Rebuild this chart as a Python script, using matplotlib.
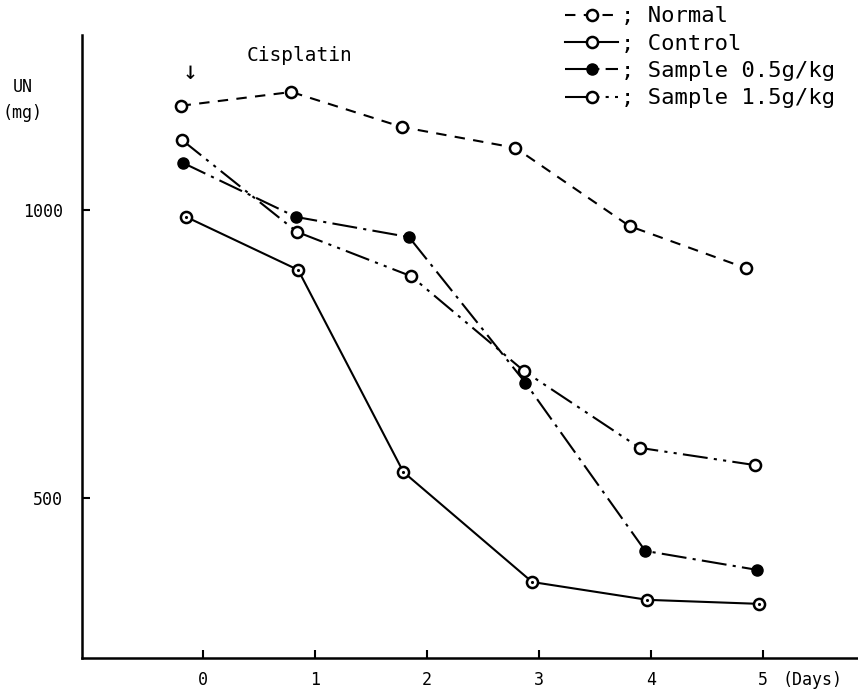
import matplotlib
matplotlib.use("Agg")
import matplotlib.pyplot as plt

# values (x in days, y in mg)
normal_x = [-0.20, 0.79, 1.78, 2.79, 3.81, 4.85]
normal_y = [1181, 1205, 1144, 1108, 972, 899]

control_x = [-0.15, 0.85, 1.79, 2.94, 3.97, 4.97]
control_y = [988, 896, 545, 354, 323, 316]

s05_x = [-0.18, 0.83, 1.84, 2.88, 3.95, 4.95]
s05_y = [1082, 988, 953, 700, 408, 375]

s15_x = [-0.19, 0.84, 1.86, 2.87, 3.90, 4.93]
s15_y = [1122, 962, 885, 720, 587, 557]

day_ticks = [0, 1, 2, 3, 4, 5]
day_labels = ["0", "1", "2", "3", "4", "5"]
un_ticks = [500, 1000]

plt.rcParams["font.family"] = ["DejaVu Sans Mono"]

fig = plt.figure(figsize=(8.58, 6.98), dpi=100)
ax = fig.add_axes([0.0956, 0.0573, 0.9044, 0.8926])

lw = 1.5
ms = 8
ax.plot(normal_x, normal_y, linestyle=(0, (5, 4)), color="black", lw=lw,
        marker="o", ms=ms, mfc="white", mec="black", mew=1.8, label="; Normal")
ax.plot(control_x, control_y, linestyle="-", color="black", lw=lw,
        marker="o", ms=ms, mfc="white", mec="black", mew=1.8, label="; Control")
ax.plot(control_x, control_y, linestyle="none", marker=".", ms=2.5, color="black")
ax.plot(s05_x, s05_y, linestyle=(0, (12, 3, 1.5, 3)), color="black", lw=lw,
        marker="o", ms=ms, mfc="black", mec="black", label="; Sample 0.5g/kg")
ax.plot(s15_x, s15_y, linestyle=(0, (12, 3, 1.5, 3, 1.5, 3)), color="black", lw=lw,
        marker="o", ms=ms, mfc="white", mec="black", mew=1.8, label="; Sample 1.5g/kg")

ax.set_xlim(-1.08, 5.85)
ax.set_ylim(222, 1304)

for s in ["top", "right"]:
    ax.spines[s].set_visible(False)
for s in ["left", "bottom"]:
    ax.spines[s].set_linewidth(1.8)

ax.set_xticks(day_ticks)
ax.set_xticklabels(day_labels)
ax.set_yticks(un_ticks)
ax.set_yticklabels([str(v) for v in un_ticks])
ax.tick_params(axis="both", direction="in", length=6, width=1.5, labelsize=12)
ax.tick_params(axis="x", pad=9)
ax.tick_params(axis="y", pad=14)

ax.annotate("(Days)", xy=(5, 0), xycoords=("data", "axes fraction"),
            xytext=(14, -9), textcoords="offset points",
            ha="left", va="top", fontsize=12)
fig.text(0.026, 0.875, "UN", fontsize=12, ha="center", va="center")
fig.text(0.026, 0.838, "(mg)", fontsize=12, ha="center", va="center")
fig.text(0.288, 0.921, "Cisplatin", fontsize=14, ha="left", va="center")
fig.text(0.222, 0.897, "\u2193", fontsize=18, ha="center", va="center")

leg = fig.legend(loc="upper left", bbox_to_anchor=(0.6585, 0.991), frameon=False,
                 fontsize=16, handlelength=2.4, handletextpad=0.1,
                 labelspacing=0.33, borderpad=0, borderaxespad=0)

fig.savefig("out.png", dpi=100)
